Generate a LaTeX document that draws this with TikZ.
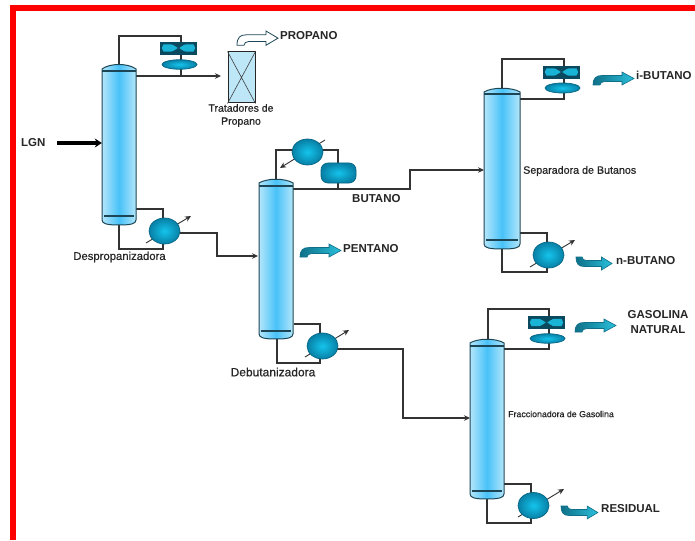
\documentclass[tikz,border=0pt]{standalone}
\usepackage{fontspec}
\setmainfont{Liberation Sans}
\usetikzlibrary{shapes.geometric,arrows.meta,calc}
\definecolor{edgeD}{HTML}{1C4656}
\definecolor{pipeC}{HTML}{333333}
\definecolor{colMid}{HTML}{48C2F8}
\definecolor{colEdge}{HTML}{B4E6FB}
\definecolor{ballIn}{HTML}{14C4EC}
\definecolor{ballOut}{HTML}{0880A6}
\definecolor{fanD}{HTML}{0B4A5E}
\definecolor{fanL}{HTML}{19B3D6}
\definecolor{flowL}{HTML}{2AC0DC}
\definecolor{flowD}{HTML}{0F7088}
\definecolor{boxC}{HTML}{BDE6F7}
\tikzset{
  x=1pt,y=-1pt,
  pipe/.style={draw=pipeC,line width=1.1pt},
  pipeA/.style={pipe,-{Stealth[length=6pt,width=5.5pt]}},
  stick/.style={draw=pipeC,line width=0.9pt,-{Stealth[length=6pt,width=5.5pt]}},
  ball/.style={ellipse,draw=ballOut!80!black,line width=0.7pt,inner color=ballIn,outer color=ballOut,minimum width=31pt,minimum height=26pt,inner sep=0pt},
  fanbox/.style={rectangle,fill=fanD,draw=fanD,minimum width=36pt,minimum height=12pt,inner sep=0pt},
  flat/.style={ellipse,draw=ballOut!80!black,line width=0.7pt,inner color=ballIn,outer color=ballOut,minimum width=35pt,minimum height=9.5pt,inner sep=0pt},
  drum/.style={rectangle,rounded corners=7pt,draw=ballOut!80!black,line width=0.7pt,inner color=ballIn,outer color=ballOut,minimum width=35pt,minimum height=20pt,inner sep=0pt},
  big/.style={font=\bfseries\fontsize{11.5}{13}\selectfont,text=black!85,inner sep=0pt},
  small/.style={font=\addfontfeature{FakeBold=0.6}\fontsize{#1}{13}\selectfont,text=black!85,inner sep=0pt,align=center},
  flowshape/.style={line width=0.6pt,draw=flowD,left color=flowD,right color=flowL},
  whiteflow/.style={line width=0.8pt,draw=edgeD,fill=white},
}
% column: name, xl, xr, top of dome, shoulder, tray top, tray bottom, bottom
\newcommand{\colm}[8]{%
  \path[draw=edgeD,line width=1pt,left color=colEdge,right color=colEdge,middle color=colMid]
    (#2,#5) .. controls (#2+8,#4) and (#3-8,#4) .. (#3,#5) -- (#3,#8-5)
    .. controls (#3,#8-1) and (#3-6,#8) .. ({(#2+#3)/2},#8)
    .. controls (#2+6,#8) and (#2,#8-1) .. (#2,#8-5) -- cycle;
  \draw[edgeD,line width=1.2pt] (#2,#6) -- (#3,#6);
  \draw[edgeD,line width=1.2pt] (#2+2,#7) -- (#3-2,#7);
  \node[inner sep=0pt,minimum width=#3pt-#2pt,minimum height=#8pt-#4pt] (#1) at ({(#2+#3)/2},{(#4+#8)/2}) {};
}
% fan unit
\newcommand{\fanunit}[3]{%
  \node[fanbox] (#1) at (#2,#3) {};
  \fill[fanL] (#2-15,#3-3.5) .. controls (#2-6,#3-4) .. (#2,#3) .. controls (#2-6,#3+4) .. (#2-15,#3+3.5) .. controls (#2-17,#3) .. cycle;
  \fill[fanL] (#2+15,#3-3.5) .. controls (#2+6,#3-4) .. (#2,#3) .. controls (#2+6,#3+4) .. (#2+15,#3+3.5) .. controls (#2+17,#3) .. cycle;
  \draw[fanD,line width=0.5pt] (#2-6,#3-4) -- (#2+6,#3+4) (#2-6,#3+4) -- (#2+6,#3-4);
}
% flow arrow, upper-left hook: x y xscale yscale style
\newcommand{\flowarrow}[5]{%
  \path[#5,xscale=#3,yscale=#4,shift={(#1/#3,#2/#4)}]
    (0,13) .. controls (0,6) and (3,3.5) .. (9,3.5) -- (29,3.5) -- (29,0) -- (41,6.5) -- (29,13) -- (29,9.5) -- (12,9.5)
    .. controls (9,9.5) and (7,11) .. (7,13) -- cycle;
}
\begin{document}
\begin{tikzpicture}
\useasboundingbox (0,0) rectangle (695,540);
\fill[white] (0,0) rectangle (695,540);
% red frame
\fill[red] (10,5) rectangle (695,11);
\fill[red] (10,5) rectangle (16,540);

% junction coordinates
\coordinate (a1) at (119,36);
\coordinate (a2) at (181,36);
\coordinate (a3) at (181,76);
\coordinate (a4) at (221,76);
\coordinate (a5) at (136,76);
\coordinate (b1) at (136,209);
\coordinate (b2) at (163,209);
\coordinate (b3) at (119,249);
\coordinate (b4) at (163,249);
\coordinate (b5) at (217,233);
\coordinate (b6) at (217,256);
\coordinate (b7) at (258,256);
\coordinate (c1) at (276,150);
\coordinate (c2) at (338,150);
\coordinate (c3) at (338,189);
\coordinate (c4) at (293,189);
\coordinate (c5) at (410,189);
\coordinate (c6) at (410,170);
\coordinate (c7) at (484,170);
\coordinate (d1) at (294,324);
\coordinate (d2) at (320,324);
\coordinate (d3) at (277,363);
\coordinate (d4) at (320,363);
\coordinate (d5) at (403,349);
\coordinate (d6) at (403,418);
\coordinate (d7) at (470,418);
\coordinate (e1) at (502,59);
\coordinate (e2) at (564,59);
\coordinate (e3) at (564,99);
\coordinate (e4) at (520,99);
\coordinate (f1) at (520,233);
\coordinate (f2) at (547,233);
\coordinate (f3) at (502,272);
\coordinate (f4) at (547,272);
\coordinate (g1) at (488,309);
\coordinate (g2) at (549,309);
\coordinate (g3) at (549,349);
\coordinate (g4) at (504,349);
\coordinate (h1) at (504,484);
\coordinate (h2) at (531,484);
\coordinate (h3) at (487,523);
\coordinate (h4) at (531,523);

% pipes behind equipment
\draw[pipe] (119,64) -- (a1) -- (a2) -- (a3) -- (a5);
\draw[pipeA] (a3) -- (a4);
\draw[pipe] (b1) -- (b2) -- (163,222);
\draw[pipe] (119,224) -- (b3) -- (b4) -- (163,240);
\draw[pipe] (276,179) -- (c1) -- (c2) -- (c3) -- (c4);
\draw[pipeA] (c3) -- (c5) -- (c6) -- (c7);
\draw[pipe] (d1) -- (d2) -- (320,338);
\draw[pipe] (d3) ++(0,-24) -- (d3) -- (d4) -- (320,355);
\draw[pipeA] (336,349) -- (d5) -- (d6) -- (d7);
\draw[pipeA] (180,233) -- (b5) -- (b6) -- (b7);
\draw[pipe] (502,88) -- (e1) -- (e2) -- (e3) -- (e4);
\draw[pipe] (f1) -- (f2) -- (547,248);
\draw[pipe] (f3) ++(0,-23) -- (f3) -- (f4) -- (547,262);
\draw[pipe] (488,339) -- (g1) -- (g2) -- (g3) -- (g4);
\draw[pipe] (h1) -- (h2) -- (531,498);
\draw[pipe] (h3) ++(0,-24) -- (h3) -- (h4) -- (531,514);

% stick arrows of exchangers
\coordinate (s1a) at (146,243); \coordinate (s1b) at (191,216);
\coordinate (s2a) at (325,140); \coordinate (s2b) at (280,168);
\coordinate (s3a) at (305,357); \coordinate (s3b) at (349,330);
\coordinate (s4a) at (530,267); \coordinate (s4b) at (575,240);
\coordinate (s5a) at (518,517); \coordinate (s5b) at (564,489);
\draw[stick] (s1a) -- (s1b);
\draw[stick] (s2a) -- (s2b);
\draw[stick] (s3a) -- (s3b);
\draw[stick] (s4a) -- (s4b);
\draw[stick] (s5a) -- (s5b);

% columns
\colm{col1}{102}{136}{63}{69}{71}{216}{225}
\colm{col2}{259}{293}{178}{183}{186}{331}{339}
\colm{col3}{484}{520}{87}{92}{94}{240}{249}
\colm{col4}{470}{504}{338}{343}{346}{491}{499}

% exchangers
\node[ball] (ex1) at (164.5,231) {};
\node[ball] (ex2) at (307.5,152) {};
\node[ball] (ex3) at (322.5,346) {};
\node[ball] (ex4) at (548.5,255) {};
\node[ball] (ex5) at (533.5,505.5) {};
\node[drum] (dr2) at (338.5,173) {};

% fans and flat drums
\fanunit{fan1}{178.5}{48}
\node[flat] (fl1) at (179.5,64.5) {};
\fanunit{fan3}{561.5}{72}
\node[flat,minimum height=10pt] (fl3) at (562.5,88) {};
\fanunit{fan4}{546.5}{322.5}
\node[flat] (fl4) at (547.5,338.5) {};

% treater
\node[draw=black!85,line width=1pt,fill=boxC,minimum width=27pt,minimum height=51pt,inner sep=0pt] (trat) at (241.5,77.5) {};
\draw[black!75,line width=0.6pt] (trat.north west) -- (trat.south east) (trat.north east) -- (trat.south west);

% feed arrow
\coordinate (lgnT) at (57,143);
\draw[black,line width=3.5pt,-{Stealth[length=7pt,width=9pt]}] (lgnT) -- (col1.west |- lgnT);

% flow arrows
\flowarrow{237}{31}{1}{1.1}{whiteflow}
\flowarrow{300}{244}{1}{1}{flowshape}
\flowarrow{593}{72}{1}{1}{flowshape}
\flowarrow{575}{319}{1}{1}{flowshape}
\flowarrow{576}{270}{0.88}{-1}{flowshape}
\flowarrow{561}{519}{0.9}{-1}{flowshape}

% labels
\node[big,anchor=west] (tPro) at (280,36) {PROPANO};
\node[big,anchor=west] (tLgn) at (21,143) {LGN};
\node[big,anchor=west] (tBut) at (352,199) {BUTANO};
\node[big,anchor=west] (tPen) at (343,249) {PENTANO};
\node[big,anchor=west] (tIbu) at (636,75) {i-BUTANO};
\node[big,anchor=west] (tNbu) at (616,261) {n-BUTANO};
\node[big,anchor=west] (tRes) at (601,509) {RESIDUAL};
\node[big,align=center,font=\bfseries\fontsize{11.5}{15}\selectfont] (tGas) at (658,322.5) {GASOLINA\\NATURAL};
\node[small=10.5] (tTra) at (241,115.5) {Tratadores de\\Propano};
\node[small=11.3] (tDep) at (119.5,257) {Despropanizadora};
\node[small=12] (tDeb) at (273,372) {Debutanizadora};
\node[small=10.7,anchor=west] (tSep) at (523,171) {Separadora de Butanos};
\node[small=8.8,anchor=west] (tFra) at (508,414) {Fraccionadora de Gasolina};
\end{tikzpicture}
\end{document}
